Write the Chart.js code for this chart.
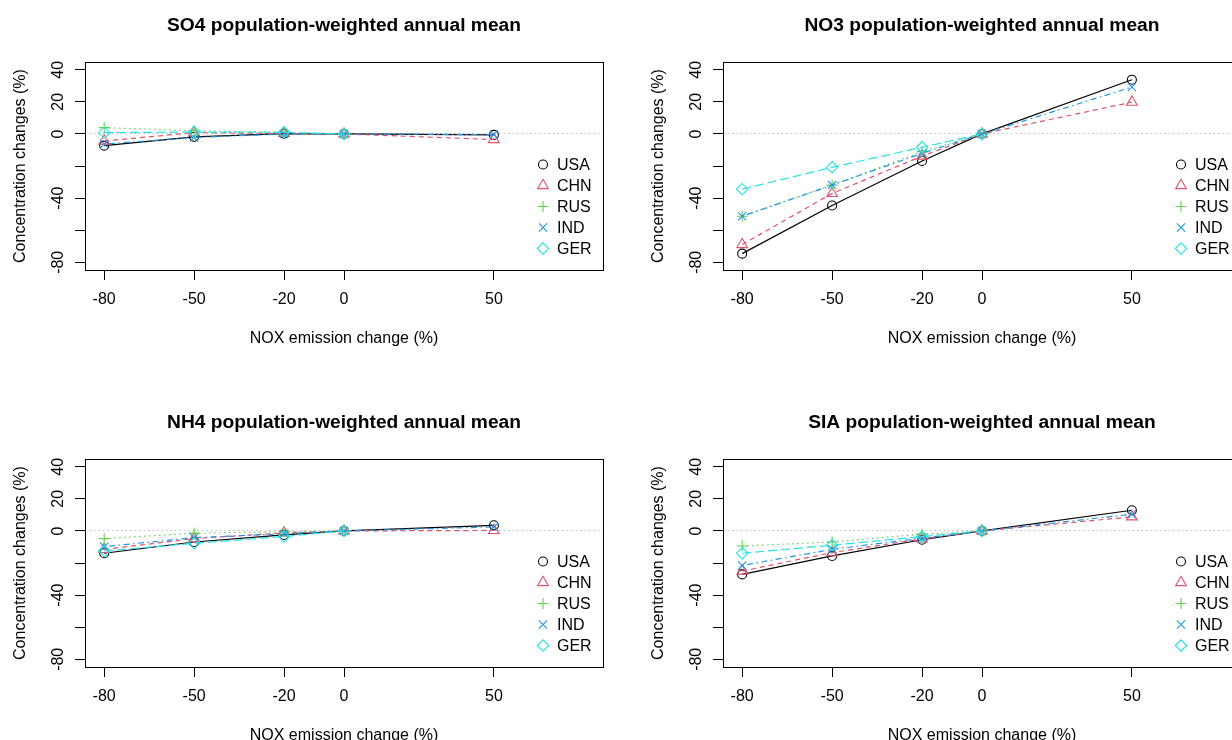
<!DOCTYPE html>
<html>
<head>
<meta charset="utf-8">
<script src="https://cdn.jsdelivr.net/npm/chart.js@4.4.1/dist/chart.umd.min.js"></script>
<style>
html, body { margin: 0; padding: 0; background: #ffffff; width: 1232px; height: 740px; overflow: hidden; }
.panel { position: absolute; width: 638px; height: 397px; }
canvas { display: block; }
</style>
</head>
<body>
<div class="panel" style="left:0px;top:0px"><canvas id="c0" width="638" height="397"></canvas></div>
<div class="panel" style="left:638px;top:0px"><canvas id="c1" width="638" height="397"></canvas></div>
<div class="panel" style="left:0px;top:397px"><canvas id="c2" width="638" height="397"></canvas></div>
<div class="panel" style="left:638px;top:397px"><canvas id="c3" width="638" height="397"></canvas></div>
<script>
// ---------------- data ----------------
const emissionChanges = [-80, -50, -20, 0, 50];
const xTickValues = [-80, -50, -20, 0, 50];
const yTickValues = [-80, -60, -40, -20, 0, 20, 40];
const yTickLabels = ['-80', '', '-40', '', '0', '20', '40'];
const countries = ['USA', 'CHN', 'RUS', 'IND', 'GER'];
const panelTitles = [
  'SO4 population-weighted annual mean',
  'NO3 population-weighted annual mean',
  'NH4 population-weighted annual mean',
  'SIA population-weighted annual mean'
];
const xAxisTitle = 'NOX emission change (%)';
const yAxisTitle = 'Concentration changes (%)';

const so4USA = [-7.3, -1.8, 0.2, 0, -0.6];
const so4CHN = [-4.4, 0.8, 0.3, 0, -3.5];
const so4RUS = [3.9, 2.0, 1.0, 0, null];
const so4IND = [-6.3, -2.2, 0.0, 0, -0.4];
const so4GER = [0.8, 1.2, 1.0, 0, null];

const no3USA = [-74.6, -44.6, -16.9, 0, 33.8];
const no3CHN = [-68.9, -37.1, -13.8, 0, 19.8];
const no3RUS = [-51.3, -31.9, -11.0, 0, null];
const no3IND = [-51.3, -31.9, -12.1, 0, 29.2];
const no3GER = [-34.4, -20.8, -8.3, 0, null];

const nh4USA = [-13.9, -6.9, -2.5, 0, 3.5];
const nh4CHN = [-11.5, -4.8, -1.2, 0, 0.3];
const nh4RUS = [-4.8, -1.4, -0.5, 0, null];
const nh4IND = [-9.8, -4.2, -1.8, 0, 2.5];
const nh4GER = [-12.5, -7.7, -3.5, 0, null];

const siaUSA = [-27.1, -15.6, -5.5, 0, 12.9];
const siaCHN = [-25.0, -13.5, -5.0, 0, 8.8];
const siaRUS = [-9.4, -6.9, -2.0, 0, null];
const siaIND = [-21.5, -11.5, -4.5, 0, 10.4];
const siaGER = [-13.9, -8.9, -3.5, 0, null];

// ---------------- styles ----------------
const seriesColors = ['#000000', '#DF536B', '#61D04F', '#2297E6', '#28E2E5'];
const seriesPointStyles = ['circle', 'triangle', 'cross', 'crossRot', 'rectRot'];
const seriesPointRadii = [4.5, 6.2, 5.5, 5.8, 5.7];
const seriesDashes = [[], [5, 4], [1.5, 3.5], [1.5, 3.5, 6, 3.5], [9, 4]];
const FONT = '"Liberation Sans", Arial, Helvetica, sans-serif';

function drawMarker(ctx, style, x, y, r, color) {
  ctx.save();
  ctx.strokeStyle = color;
  ctx.lineWidth = 1.1;
  ctx.setLineDash([]);
  ctx.beginPath();
  if (style === 'circle') {
    ctx.arc(x, y, r, 0, Math.PI * 2);
  } else if (style === 'triangle') {
    for (let k = 0; k < 3; k++) {
      const a = k * 2 * Math.PI / 3;
      const px = x + Math.sin(a) * r, py = y - Math.cos(a) * r;
      if (k === 0) ctx.moveTo(px, py); else ctx.lineTo(px, py);
    }
    ctx.closePath();
  } else if (style === 'cross') {
    ctx.moveTo(x - r, y); ctx.lineTo(x + r, y);
    ctx.moveTo(x, y - r); ctx.lineTo(x, y + r);
  } else if (style === 'crossRot') {
    const o = r * Math.SQRT1_2;
    ctx.moveTo(x - o, y - o); ctx.lineTo(x + o, y + o);
    ctx.moveTo(x + o, y - o); ctx.lineTo(x - o, y + o);
  } else if (style === 'rectRot') {
    ctx.moveTo(x - r, y); ctx.lineTo(x, y - r); ctx.lineTo(x + r, y); ctx.lineTo(x, y + r);
    ctx.closePath();
  }
  ctx.stroke();
  ctx.restore();
}

const frameAndLegend = {
  id: 'frameAndLegend',
  afterDraw(chart) {
    const {ctx, chartArea} = chart;
    ctx.save();
    ctx.strokeStyle = '#000000';
    ctx.lineWidth = 1;
    ctx.setLineDash([]);
    const l = Math.round(chartArea.left) + 0.5, t = Math.round(chartArea.top) + 0.5;
    const r = Math.round(chartArea.right) + 0.5, b = Math.round(chartArea.bottom) + 0.5;
    ctx.strokeRect(l, t, r - l, b - t);
    const ds = chart.data.datasets;
    ds.forEach((d, i) => {
      const y = chartArea.bottom - 21.5 - (ds.length - 1 - i) * 21;
      drawMarker(ctx, d.pointStyle, chartArea.right - 60, y, d.pointRadius, d.borderColor);
      ctx.fillStyle = '#000000';
      ctx.font = '16px ' + FONT;
      ctx.textAlign = 'left';
      ctx.textBaseline = 'middle';
      ctx.fillText(d.label, chartArea.right - 46, y + 1);
    });
    ctx.restore();
  }
};

function makePanel(canvasId, title, seriesValues) {
  const datasets = countries.map((name, i) => ({
    label: name,
    data: emissionChanges.map((x, k) => ({x: x, y: seriesValues[i][k]})),
    borderColor: seriesColors[i],
    backgroundColor: 'rgba(0,0,0,0)',
    borderWidth: 1.2,
    borderDash: seriesDashes[i],
    pointStyle: seriesPointStyles[i],
    pointRadius: seriesPointRadii[i],
    pointBorderWidth: 1.1,
    pointBorderColor: seriesColors[i],
    pointBackgroundColor: 'rgba(0,0,0,0)',
    tension: 0,
    spanGaps: false,
    order: countries.length - i
  }));
  return new Chart(document.getElementById(canvasId), {
    type: 'line',
    data: {datasets: datasets},
    plugins: [frameAndLegend],
    options: {
      responsive: false,
      animation: false,
      devicePixelRatio: 1,
      events: [],
      layout: {padding: {left: 0, right: 35, top: 0, bottom: 0}},
      plugins: {
        legend: {display: false},
        tooltip: {enabled: false},
        title: {
          display: true,
          fullSize: false,
          text: title,
          color: '#000000',
          font: {family: FONT, size: 19.2, weight: 'bold', lineHeight: 1.2},
          padding: {top: 14.5, bottom: 24.5}
        }
      },
      scales: {
        x: {
          type: 'linear',
          min: -86.4,
          max: 86.4,
          afterBuildTicks: (s) => { s.ticks = xTickValues.map(v => ({value: v})); },
          afterFit: (s) => { s.height = 127; },
          border: {display: false},
          grid: {display: true, drawOnChartArea: false, color: '#000000', tickColor: '#000000', tickLength: 10, lineWidth: 1},
          ticks: {
            autoSkip: false,
            maxRotation: 0,
            minRotation: 0,
            padding: 10,
            color: '#000000',
            font: {family: FONT, size: 16},
            callback: (v) => String(v)
          },
          title: {
            display: true,
            text: xAxisTitle,
            color: '#000000',
            font: {family: FONT, size: 16},
            padding: {top: 0, bottom: 48.4}
          }
        },
        y: {
          type: 'linear',
          min: -84.8,
          max: 44.8,
          afterBuildTicks: (s) => { s.ticks = yTickValues.map(v => ({value: v})); },
          afterFit: (s) => { s.width = 85; },
          border: {display: false, dash: [1.5, 3]},
          grid: {
            display: true,
            drawOnChartArea: true,
            color: (c) => (c.tick && c.tick.value === 0) ? '#BEBEBE' : 'rgba(0,0,0,0)',
            tickColor: '#000000',
            tickLength: 10,
            lineWidth: 1
          },
          ticks: {
            autoSkip: false,
            minRotation: 90,
            maxRotation: 90,
            crossAlign: 'center',
            padding: 4.5,
            color: '#000000',
            font: {family: FONT, size: 16},
            callback: (v, idx) => yTickLabels[idx]
          },
          title: {
            display: true,
            text: yAxisTitle,
            color: '#000000',
            font: {family: FONT, size: 16},
            padding: {top: 11.4, bottom: 0}
          }
        }
      }
    }
  });
}

makePanel('c0', panelTitles[0], [so4USA, so4CHN, so4RUS, so4IND, so4GER]);
makePanel('c1', panelTitles[1], [no3USA, no3CHN, no3RUS, no3IND, no3GER]);
makePanel('c2', panelTitles[2], [nh4USA, nh4CHN, nh4RUS, nh4IND, nh4GER]);
makePanel('c3', panelTitles[3], [siaUSA, siaCHN, siaRUS, siaIND, siaGER]);
</script>
</body>
</html>
